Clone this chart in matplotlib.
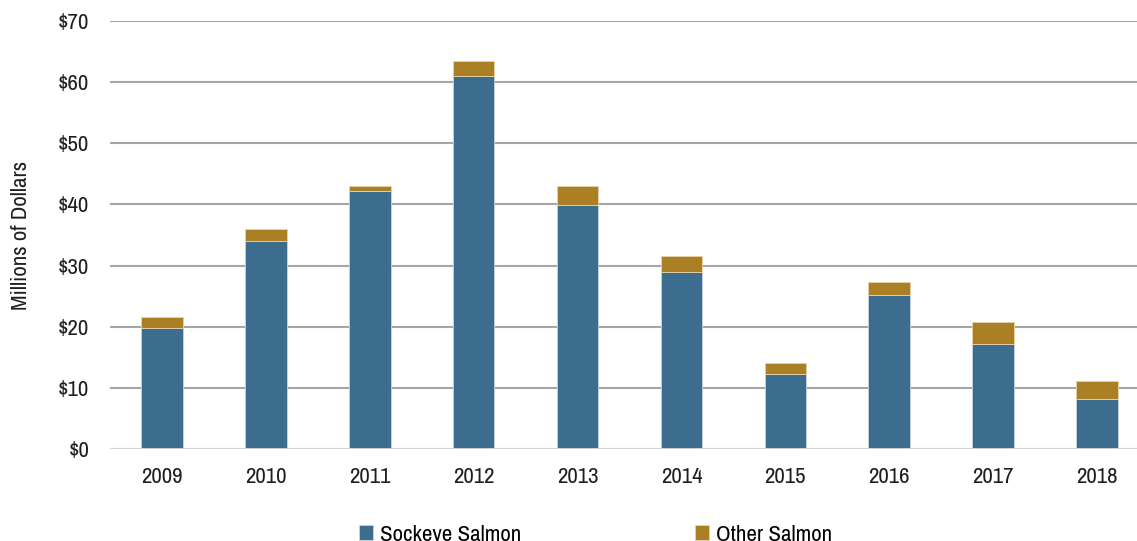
import matplotlib
matplotlib.use("Agg")
import matplotlib.pyplot as plt
import numpy as np

years = ["2009", "2010", "2011", "2012", "2013", "2014", "2015", "2016", "2017", "2018"]
sockeye = [19.8, 34.0, 42.2, 61.0, 39.9, 29.0, 12.3, 25.2, 17.1, 8.2]
other = [1.8, 2.0, 0.8, 2.5, 3.1, 2.6, 1.8, 2.1, 3.7, 2.9]
yticks = [0, 10, 20, 30, 40, 50, 60, 70]

plt.rcParams["font.family"] = ["Archivo Narrow", "Liberation Sans", "DejaVu Sans"]
FS = 16.5

fig = plt.figure(figsize=(11.37, 5.41), dpi=100)
ax = fig.add_axes([110 / 1137, 92 / 541, 1 - 110 / 1137, 428 / 541])

x = np.arange(len(years))
ax.bar(x, sockeye, width=0.4, color="#3d6d8e", edgecolor="#c9d6e0", linewidth=0.6,
       label="Sockeye Salmon", zorder=3)
ax.bar(x, other, width=0.4, bottom=sockeye, color="#ab7f24", edgecolor="#e6d3a8",
       linewidth=0.6, label="Other Salmon", zorder=3)

ax.set_ylim(0, 70)
ax.set_xlim(-0.5, -0.5 + 1027 / 103.9)
ax.set_yticks(yticks)
ax.set_yticklabels([f"${v}" for v in yticks])
ax.set_xticks(x)
ax.set_xticklabels(years)
ax.tick_params(axis="both", length=0, labelsize=FS, colors="#1f1f1f")
ax.tick_params(axis="y", pad=15)
ax.tick_params(axis="x", pad=13)

ax.grid(axis="y", color="#a6a6a6", linewidth=1.5, zorder=0)
for s in ax.spines.values():
    s.set_visible(False)
ax.axhline(0, color="#d9d9d9", linewidth=2, zorder=4)

ax.set_ylabel("Millions of Dollars", fontsize=FS, color="#1f1f1f", labelpad=19)

fig.legend(loc="lower left", bbox_to_anchor=(338 / 1137, -0.045), ncol=2, frameon=False,
           fontsize=FS, handlelength=0.62, handleheight=0.62, handletextpad=0.3,
           columnspacing=7.6)

fig.savefig("out.png", dpi=100)
